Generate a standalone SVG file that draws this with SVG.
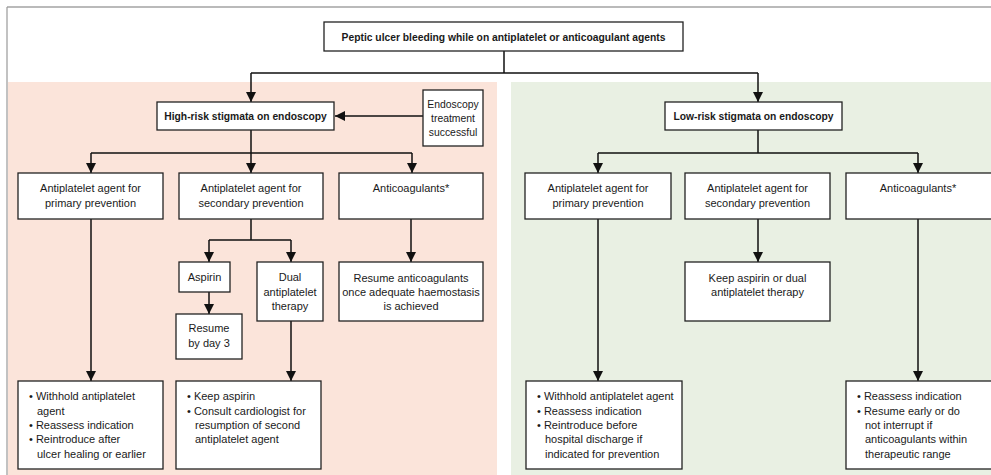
<svg xmlns="http://www.w3.org/2000/svg" width="991" height="475" viewBox="0 0 991 475">
<defs>
<marker id="ah" viewBox="0 0 10 10" refX="10" refY="5" markerWidth="10" markerHeight="10" markerUnits="userSpaceOnUse" orient="auto">
<path d="M0,0 L10,5 L0,10 Z" fill="#111"/>
</marker>
<style>
.box{fill:#fff;stroke:#222;stroke-width:1.3}
.t{font-family:"Liberation Sans",Arial,sans-serif;font-size:11px;fill:#1a1a1a}
.c{text-anchor:middle}
.b{font-weight:bold;font-size:10.3px}
.s{font-size:10.4px}
.ln{fill:none;stroke:#111;stroke-width:1.5}
.arr{fill:none;stroke:#111;stroke-width:1.5;marker-end:url(#ah)}
</style>
</defs>
<rect x="0" y="0" width="991" height="475" fill="#fff"/>
<line x1="7" y1="7" x2="991" y2="7" stroke="#777" stroke-width="1.2"/>
<line x1="7" y1="7" x2="7" y2="475" stroke="#999" stroke-width="1.2"/>
<rect x="8" y="82" width="489" height="393" fill="#fbe4da"/>
<rect x="511" y="82" width="480" height="393" fill="#e9f0e3"/>

<g id="connectors">
<path class="ln" d="M504,51 V73 M251,73 H758"/>
<path class="arr" d="M251,73 V102"/>
<path class="arr" d="M758,73 V102"/>
<path class="arr" d="M423,116 H335"/>
<path class="ln" d="M251,130 V153 M91,153 H412"/>
<path class="arr" d="M91,153 V173"/>
<path class="arr" d="M251,153 V173"/>
<path class="arr" d="M412,153 V173"/>
<path class="ln" d="M758,130 V153 M598,153 H918"/>
<path class="arr" d="M598,153 V173"/>
<path class="arr" d="M918,153 V173"/>
<path class="ln" d="M251,219 V240 M209,240 H291"/>
<path class="arr" d="M209,240 V262"/>
<path class="arr" d="M291,240 V262"/>
<path class="arr" d="M209,292 V314"/>
<path class="arr" d="M291,321 V381"/>
<path class="arr" d="M91,219 V381"/>
<path class="arr" d="M411,219 V262"/>
<path class="arr" d="M758,219 V262"/>
<path class="arr" d="M598,219 V381"/>
<path class="arr" d="M918,219 V381"/>
</g>

<g id="top">
<rect class="box" x="324" y="22" width="359" height="29"/>
<text class="t c b" x="503.5" y="40.5">Peptic ulcer bleeding while on antiplatelet or anticoagulant agents</text>
</g>

<g id="high">
<rect class="box" x="157" y="102" width="177" height="28"/>
<text class="t c b" x="245.5" y="119.5">High-risk stigmata on endoscopy</text>
</g>

<g id="endo">
<rect class="box" x="423" y="90" width="60" height="56"/>
<text class="t c s" x="453" y="108">Endoscopy</text>
<text class="t c s" x="453" y="122">treatment</text>
<text class="t c s" x="453" y="136">successful</text>
</g>

<g id="low">
<rect class="box" x="665" y="102" width="177" height="28"/>
<text class="t c b" x="753.5" y="119.5">Low-risk stigmata on endoscopy</text>
</g>

<g id="hA">
<rect class="box" x="18" y="173" width="145" height="46"/>
<text class="t c" x="90.5" y="192">Antiplatelet agent for</text>
<text class="t c" x="90.5" y="207">primary prevention</text>
</g>
<g id="hB">
<rect class="box" x="179" y="173" width="144" height="46"/>
<text class="t c" x="251" y="192">Antiplatelet agent for</text>
<text class="t c" x="251" y="207">secondary prevention</text>
</g>
<g id="hC">
<rect class="box" x="339" y="173" width="144" height="46"/>
<text class="t c" x="411" y="192">Anticoagulants*</text>
</g>

<g id="aspirin">
<rect class="box" x="179" y="262" width="51" height="30"/>
<text class="t c" x="204.5" y="281">Aspirin</text>
</g>
<g id="resume3">
<rect class="box" x="176" y="314" width="66" height="45"/>
<text class="t c" x="209" y="332">Resume</text>
<text class="t c" x="209" y="347">by day 3</text>
</g>
<g id="dual">
<rect class="box" x="257" y="262" width="66" height="59"/>
<text class="t c" x="290" y="281">Dual</text>
<text class="t c" x="290" y="296">antiplatelet</text>
<text class="t c" x="290" y="310">therapy</text>
</g>
<g id="resumeAC">
<rect class="box" x="339" y="262" width="144" height="59"/>
<text class="t c" x="411" y="282">Resume anticoagulants</text>
<text class="t c" x="411" y="296">once adequate haemostasis</text>
<text class="t c" x="411" y="310">is achieved</text>
</g>

<g id="hA2">
<rect class="box" x="18" y="381" width="145" height="88"/>
<text class="t" x="29" y="400">• Withhold antiplatelet</text>
<text class="t" x="37" y="415">agent</text>
<text class="t" x="29" y="429">• Reassess indication</text>
<text class="t" x="29" y="443">• Reintroduce after</text>
<text class="t" x="37" y="458">ulcer healing or earlier</text>
</g>
<g id="hB2">
<rect class="box" x="176" y="381" width="145" height="88"/>
<text class="t" x="187" y="400">• Keep aspirin</text>
<text class="t" x="187" y="415">• Consult cardiologist for</text>
<text class="t" x="195" y="429">resumption of second</text>
<text class="t" x="195" y="443">antiplatelet agent</text>
</g>

<g id="lD">
<rect class="box" x="525" y="173" width="146" height="46"/>
<text class="t c" x="598" y="192">Antiplatelet agent for</text>
<text class="t c" x="598" y="207">primary prevention</text>
</g>
<g id="lE">
<rect class="box" x="685" y="173" width="145" height="46"/>
<text class="t c" x="757.5" y="192">Antiplatelet agent for</text>
<text class="t c" x="757.5" y="207">secondary prevention</text>
</g>
<g id="lF">
<rect class="box" x="846" y="173" width="150" height="46"/>
<text class="t c" x="918" y="192">Anticoagulants*</text>
</g>
<g id="lE2">
<rect class="box" x="685" y="262" width="145" height="59"/>
<text class="t c" x="757.5" y="282">Keep aspirin or dual</text>
<text class="t c" x="757.5" y="296">antiplatelet therapy</text>
</g>
<g id="lD2">
<rect class="box" x="526" y="381" width="156" height="88"/>
<text class="t" x="537" y="400">• Withhold antiplatelet agent</text>
<text class="t" x="537" y="415">• Reassess indication</text>
<text class="t" x="537" y="429">• Reintroduce before</text>
<text class="t" x="545" y="443">hospital discharge if</text>
<text class="t" x="545" y="458">indicated for prevention</text>
</g>
<g id="lF2">
<rect class="box" x="846" y="381" width="150" height="88"/>
<text class="t" x="857" y="400">• Reassess indication</text>
<text class="t" x="857" y="415">• Resume early or do</text>
<text class="t" x="865" y="429">not interrupt if</text>
<text class="t" x="865" y="443">anticoagulants within</text>
<text class="t" x="865" y="458">therapeutic range</text>
</g>
</svg>
